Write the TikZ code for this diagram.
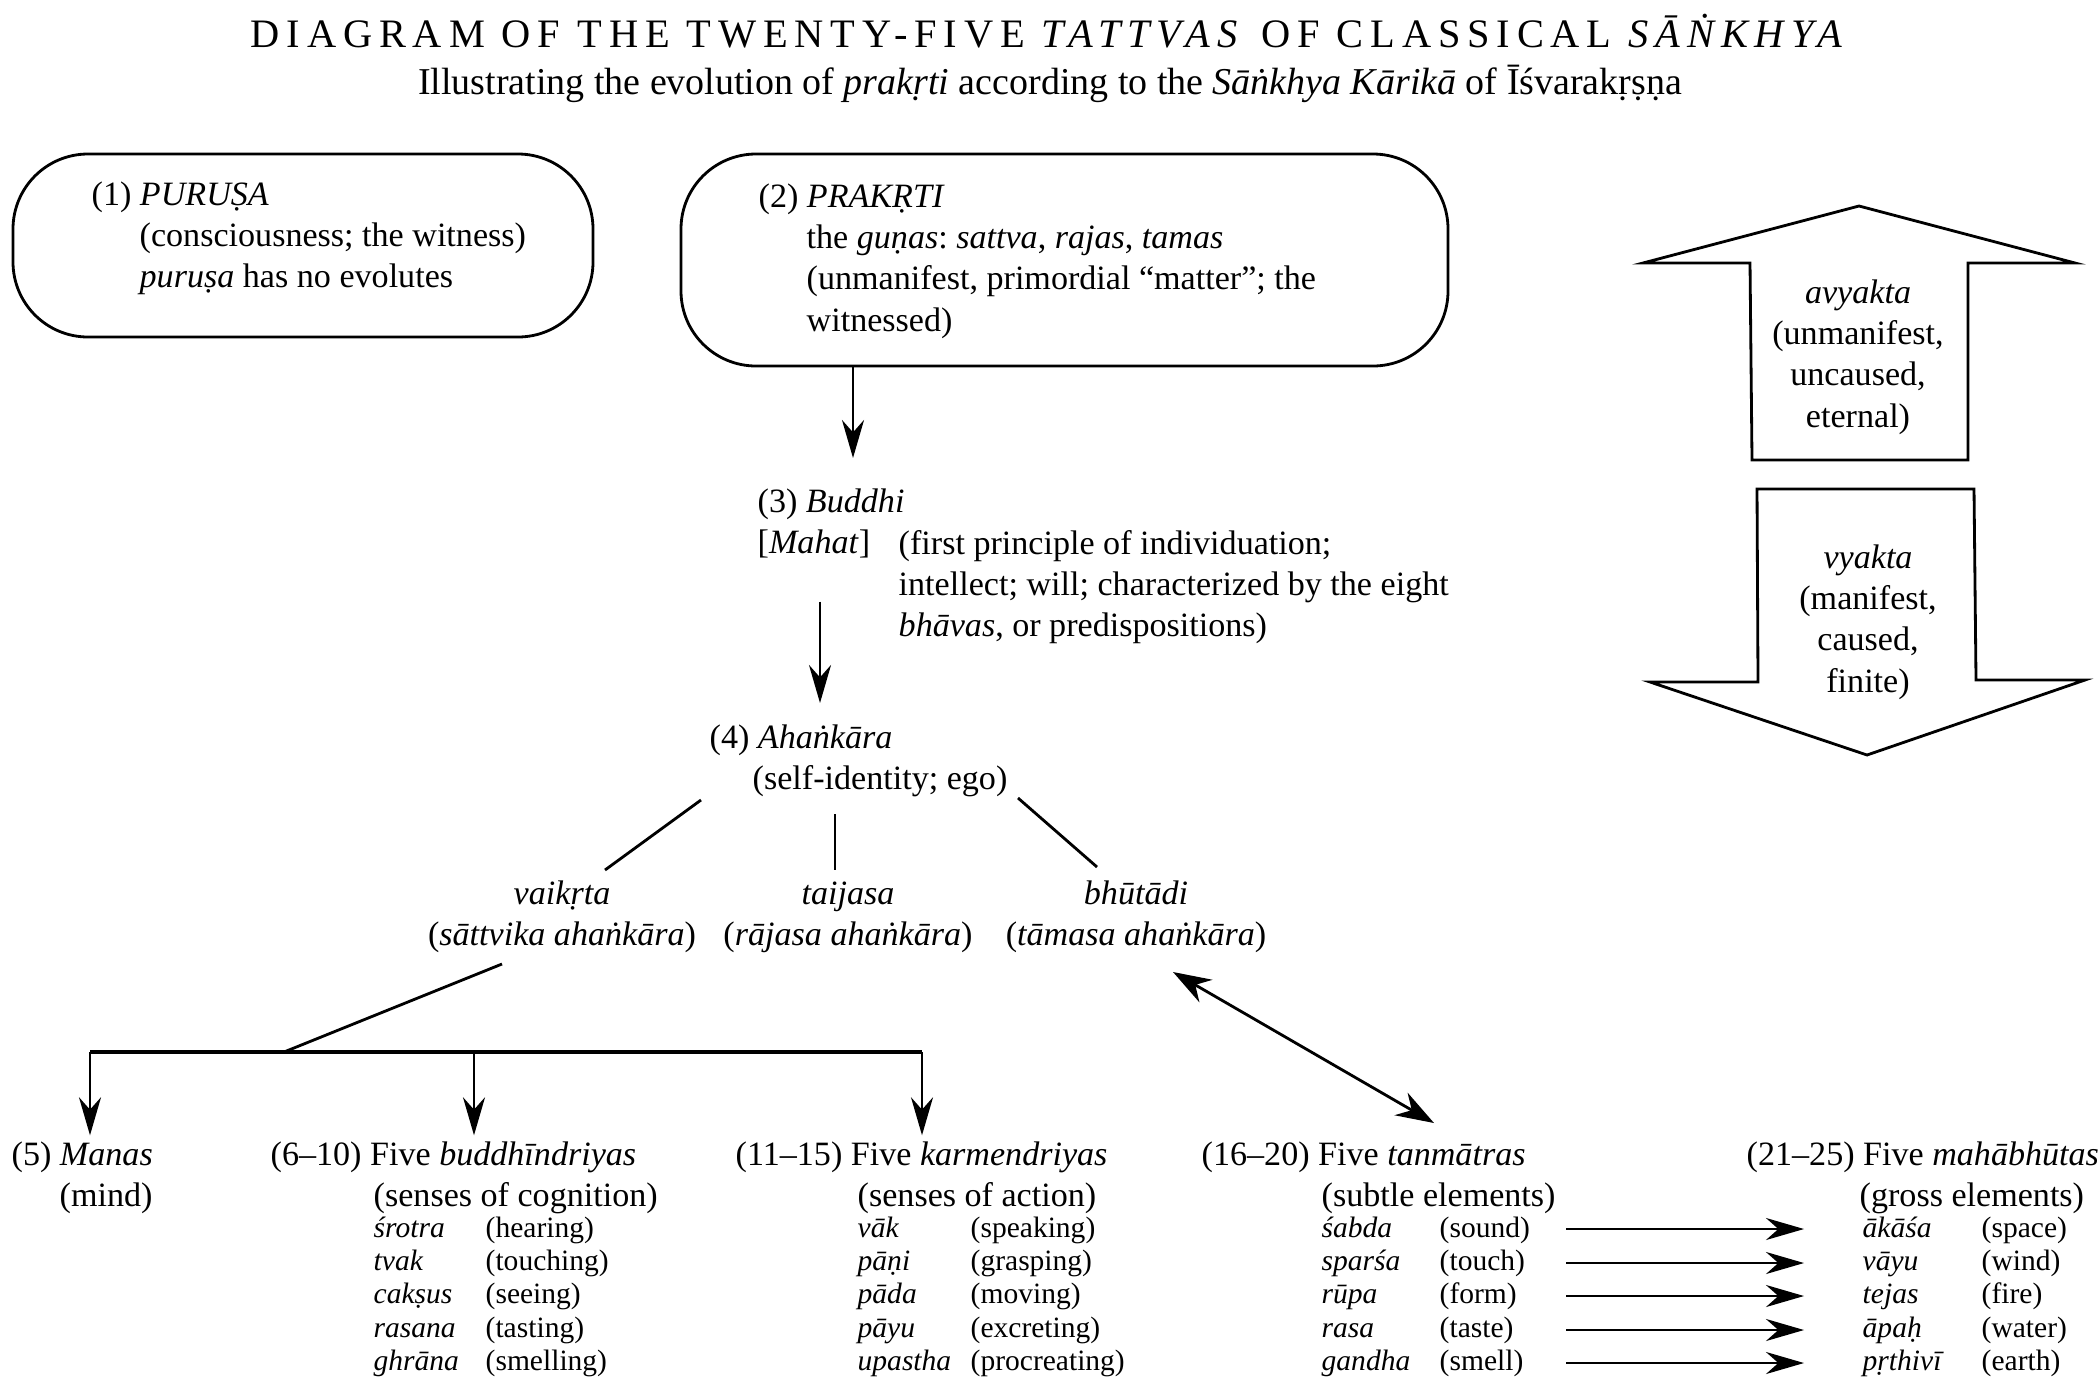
\documentclass[tikz,border=0pt]{standalone}
\usepackage{fontspec}
\setmainfont{Liberation Serif}
\newfontfamily\titlefont{Liberation Serif}[LetterSpace=17]
\usepackage{tikz}
\usetikzlibrary{arrows.meta,positioning}
\frenchspacing

\newcommand{\bodyfont}{\fontsize{9.7}{11.8}\selectfont}
\newcommand{\listfont}{\fontsize{8.4}{9.5}\selectfont}
\newcommand{\hang}{\hspace*{0.48cm}}
\newcommand{\blk}[1]{\begin{tabular}[t]{@{}l@{}}#1\end{tabular}}
\newcommand{\cblk}[1]{\begin{tabular}[t]{@{}c@{}}#1\end{tabular}}
\newcommand{\pairs}[2]{\begin{tabular}[t]{@{}p{#1}@{}l@{}}#2\end{tabular}}

\begin{document}
\begin{tikzpicture}[
	every node/.style={inner sep=0pt},
	txt/.style={anchor=base west, font=\bodyfont},
	ctxt/.style={anchor=base, font=\bodyfont},
	lst/.style={anchor=base west, font=\listfont},
	tbox/.style={draw, line width=0.8pt, rounded corners=0.75cm},
	ln/.style={line width=0.8pt},
	arr/.style={line width=0.8pt, -{Stealth[length=3.8mm, width=2.2mm]}},
	darr/.style={line width=0.8pt, {Stealth[length=3.8mm, width=2.6mm]}-{Stealth[length=3.8mm, width=2.6mm]}},
	bigarrow/.style={line width=0.8pt, line join=miter}
	]
	\useasboundingbox (0,0) rectangle (20.99,-13.94);
	
	% title
	\node[anchor=base, font=\titlefont\fontsize{11.5}{13}\selectfont] (title) at (10.5,-0.47)
		{DIAGRAM OF THE TWENTY-FIVE \textit{TATTVAS} OF CLASSICAL \textit{SĀṄKHYA}};
	\node[anchor=base, font=\fontsize{10.8}{13}\selectfont] (subtitle) at (10.5,-0.94)
		{Illustrating the evolution of \textit{prakṛti} according to the \textit{Sāṅkhya Kārikā} of Īśvarakṛṣṇa};
	
	% the two principles
	\node[tbox, minimum width=5.8cm, minimum height=1.83cm] (purusa) at (3.03,-2.455) {};
	\node[tbox, minimum width=7.67cm, minimum height=2.12cm] (prakrti) at (10.645,-2.60) {};
	\node[txt] (purusatext) at (0.91,-2.05)
		{\blk{(1) \textit{PURUṢA}\\ \hang(consciousness; the witness)\\ \hang\textit{puruṣa} has no evolutes}};
	\node[txt] (prakrtitext) at (7.58,-2.07)
		{\blk{(2) \textit{PRAKṚTI}\\ \hang the \textit{guṇas}: \textit{sattva}, \textit{rajas}, \textit{tamas}\\ \hang(unmanifest, primordial “matter”; the\\ \hang witnessed)}};
	
	\node[txt] (buddhi) at (7.57,-5.12) {\blk{(3) \textit{Buddhi}\\ {[}\textit{Mahat}{]}}};
	\node[txt] (mahat) at (8.98,-5.54)
		{\blk{(first principle of individuation;\\ intellect; will; characterized by the eight\\ \textit{bhāvas}, or predispositions)}};
	\node[txt] (ahankara) at (7.09,-7.48) {\blk{(4) \textit{Ahaṅkāra}\\ \hspace*{0.43cm}(self-identity; ego)}};
	
	\node[ctxt] (vaikrta) at (5.62,-9.04) {\cblk{\textit{vaikṛta}\\ (\textit{sāttvika ahaṅkāra})}};
	\node[ctxt] (taijasa) at (8.48,-9.04) {\cblk{\textit{taijasa}\\ (\textit{rājasa ahaṅkāra})}};
	\node[ctxt] (bhutadi) at (11.36,-9.04) {\cblk{\textit{bhūtādi}\\ (\textit{tāmasa ahaṅkāra})}};
	
	% arrows down the middle
	\coordinate (a1) at (8.53,-4.58);
	\coordinate (a2) at (8.20,-7.03);
	\draw[arr] (prakrti.south -| a1) -- (a1);
	\draw[arr, shorten <=3.5mm] (buddhi.south -| a2) -- (a2);
	
	% three kinds of ahankara
	\coordinate (v0) at (7.01,-8.00);
	\coordinate (v1) at (6.05,-8.70);
	\coordinate (t0) at (8.35,-8.14);
	\coordinate (t1) at (8.35,-8.70);
	\coordinate (b0) at (10.18,-7.98);
	\coordinate (b1) at (10.97,-8.67);
	\draw[ln] (v0) -- (v1);
	\draw[ln] (t0) -- (t1);
	\draw[ln] (b0) -- (b1);
	
	% evolutes of vaikrta
	\coordinate (k0) at (5.02,-9.64);
	\coordinate (k1) at (2.84,-10.52);
	\coordinate (barL) at (0.90,-10.52);
	\coordinate (barM) at (4.74,-10.52);
	\coordinate (barR) at (9.22,-10.52);
	\draw[ln] (k0) -- (k1);
	\draw[line width=1pt] (barL) -- (barR);
	
	\node[txt] (manas) at (0.11,-11.65) {\blk{(5) \textit{Manas}\\ \hang(mind)}};
	\node[txt] (buddhindriyas) at (2.70,-11.65)
		{\blk{(6--10) Five \textit{buddhīndriyas}\\ \hspace*{1.03cm}(senses of cognition)}};
	\node[txt] (karmendriyas) at (7.35,-11.65)
		{\blk{(11--15) Five \textit{karmendriyas}\\ \hspace*{1.22cm}(senses of action)}};
	\node[txt] (tanmatras) at (12.01,-11.65)
		{\blk{(16--20) Five \textit{tanmātras}\\ \hspace*{1.20cm}(subtle elements)}};
	\node[txt] (mahabhutas) at (17.46,-11.65)
		{\blk{(21--25) Five \textit{mahābhūtas}\\ \hspace*{1.13cm}(gross elements)}};
	
	\draw[arr] (barL) -- (barL |- manas.north);
	\draw[arr] (barM) -- (barM |- buddhindriyas.north);
	\draw[arr] (barR) -- (barR |- karmendriyas.north);
	\draw[darr] (11.73,-9.72) coordinate (d0) -- (14.34,-11.23) coordinate (d1);
	
	% the lists
	\node[lst] (cognition) at (3.73,-12.37)
		{\pairs{1.12cm}{\textit{śrotra} & (hearing)\\ \textit{tvak} & (touching)\\ \textit{cakṣus} & (seeing)\\ \textit{rasana} & (tasting)\\ \textit{ghrāna} & (smelling)}};
	\node[lst] (action) at (8.57,-12.37)
		{\pairs{1.13cm}{\textit{vāk} & (speaking)\\ \textit{pāṇi} & (grasping)\\ \textit{pāda} & (moving)\\ \textit{pāyu} & (excreting)\\ \textit{upastha} & (procreating)}};
	\node[lst] (subtle) at (13.21,-12.37)
		{\pairs{1.18cm}{\textit{śabda} & (sound)\\ \textit{sparśa} & (touch)\\ \textit{rūpa} & (form)\\ \textit{rasa} & (taste)\\ \textit{gandha} & (smell)}};
	\node[lst] (gross) at (18.62,-12.37)
		{\pairs{1.19cm}{\textit{ākāśa} & (space)\\ \textit{vāyu} & (wind)\\ \textit{tejas} & (fire)\\ \textit{āpaḥ} & (water)\\ \textit{pṛthivī} & (earth)}};
	
	% tanmatras give the mahabhutas
	\coordinate (s1) at (15.66,-12.29); \coordinate (g1) at (18.04,-12.29);
	\coordinate (s2) at (15.66,-12.63); \coordinate (g2) at (18.04,-12.63);
	\coordinate (s3) at (15.66,-12.96); \coordinate (g3) at (18.04,-12.96);
	\coordinate (s4) at (15.66,-13.30); \coordinate (g4) at (18.04,-13.30);
	\coordinate (s5) at (15.66,-13.63); \coordinate (g5) at (18.04,-13.63);
	\draw[arr] (s1) -- (g1);
	\draw[arr] (s2) -- (g2);
	\draw[arr] (s3) -- (g3);
	\draw[arr] (s4) -- (g4);
	\draw[arr] (s5) -- (g5);
	
	% unmanifest / manifest
	\draw[bigarrow] (18.59,-2.06) -- (20.75,-2.63) -- (19.68,-2.63) -- (19.68,-4.60)
		-- (17.52,-4.60) -- (17.50,-2.63) -- (16.43,-2.63) -- cycle;
	\draw[bigarrow] (17.57,-4.89) -- (19.74,-4.89) -- (19.76,-6.80) -- (20.85,-6.80)
		-- (18.67,-7.55) -- (16.50,-6.82) -- (17.58,-6.82) -- cycle;
	\node[ctxt] (avyakta) at (18.58,-3.03) {\cblk{\textit{avyakta}\\ (unmanifest,\\ uncaused,\\ eternal)}};
	\node[ctxt] (vyakta) at (18.68,-5.68) {\cblk{\textit{vyakta}\\ (manifest,\\ caused,\\ finite)}};
\end{tikzpicture}
\end{document}
